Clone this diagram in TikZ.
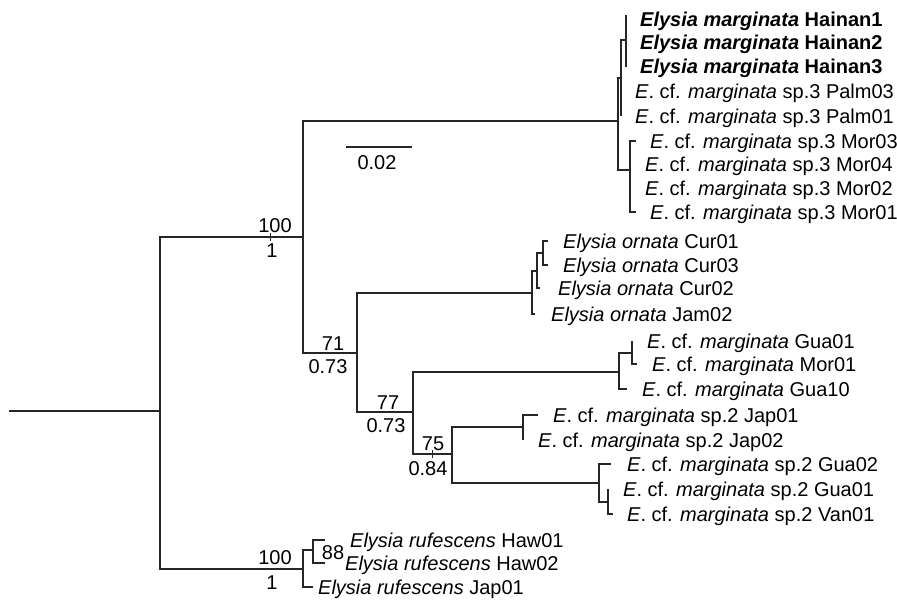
\documentclass[tikz,border=0pt]{standalone}
\usepackage{fontspec}
\setmainfont{Liberation Sans}
\begin{document}
\begin{tikzpicture}[x=1pt,y=-1pt,
  br/.style={line width=1.2pt, draw=black!85},
  leaf/.style={anchor=west, inner sep=0pt, text height=14pt, text depth=0pt, font=\fontsize{20}{22}\selectfont},
  bsl/.style={anchor=center, inner sep=0pt, text height=14pt, text depth=0pt, font=\fontsize{20}{22}\selectfont},
  tick/.style={line width=0.6pt, draw=black!85}]
\useasboundingbox (0,0) rectangle (897,602);
% ---- coordinates (pixel space, y down)
\coordinate (r0) at (9,411);
\coordinate (R) at (160,411);
\coordinate (A) at (303,237);
\coordinate (T) at (618,121);
\coordinate (HP) at (621,78);
\coordinate (HN) at (626,40);
\coordinate (h1) at (626,15);
\coordinate (h2) at (626,43);
\coordinate (h3) at (626,67);
\coordinate (p3) at (621,92);
\coordinate (p1) at (621,116);
\coordinate (MO) at (630,170);
\coordinate (m3) at (636,141);
\coordinate (m4) at (630,164);
\coordinate (m2) at (630,188);
\coordinate (m1) at (636,212);
\coordinate (B) at (357,353);
\coordinate (O) at (532,293);
\coordinate (CC) at (537,271);
\coordinate (CU) at (543,253);
\coordinate (c1) at (548,241);
\coordinate (c3) at (548,265);
\coordinate (c2) at (540,288);
\coordinate (j2) at (535,314);
\coordinate (C) at (413,412);
\coordinate (GM) at (619,372);
\coordinate (GM2) at (632,353);
\coordinate (g1) at (632,341);
\coordinate (mo1) at (637,364);
\coordinate (g10) at (627,389);
\coordinate (D) at (452,454);
\coordinate (JP) at (523,427);
\coordinate (jp1) at (538,415);
\coordinate (jp2) at (523,440);
\coordinate (GV) at (599,483);
\coordinate (gu2) at (611,464);
\coordinate (GV2) at (608,502);
\coordinate (gu1) at (608,489);
\coordinate (va1) at (613,514);
\coordinate (RU) at (303,569);
\coordinate (HW) at (313,550);
\coordinate (hw1) at (325,540);
\coordinate (hw2) at (325,563);
\coordinate (rj1) at (313,587);
% ---- branches
\draw[br] (r0) -- (R);
\draw[br] (R) |- (A);
\draw[br] (R) |- (RU);
\draw[br] (A) |- (T);
\draw[br] (A) |- (B);
\draw[br] (T) |- (HP);
\draw[br] (T) |- (MO);
\draw[br] (HP) |- (HN);
\draw[br] (HP) |- (p3);
\draw[br] (HP) |- (p1);
\draw[br] (HN) |- (h1);
\draw[br] (HN) |- (h2);
\draw[br] (HN) |- (h3);
\draw[br] (MO) |- (m3);
\draw[br] (MO) |- (m4);
\draw[br] (MO) |- (m2);
\draw[br] (MO) |- (m1);
\draw[br] (B) |- (O);
\draw[br] (B) |- (C);
\draw[br] (O) |- (CC);
\draw[br] (O) |- (j2);
\draw[br] (CC) |- (CU);
\draw[br] (CC) |- (c2);
\draw[br] (CU) |- (c1);
\draw[br] (CU) |- (c3);
\draw[br] (C) |- (GM);
\draw[br] (C) |- (D);
\draw[br] (GM) |- (GM2);
\draw[br] (GM) |- (g10);
\draw[br] (GM2) |- (g1);
\draw[br] (GM2) |- (mo1);
\draw[br] (D) |- (JP);
\draw[br] (D) |- (GV);
\draw[br] (JP) |- (jp1);
\draw[br] (JP) |- (jp2);
\draw[br] (GV) |- (gu2);
\draw[br] (GV) |- (GV2);
\draw[br] (GV2) |- (gu1);
\draw[br] (GV2) |- (va1);
\draw[br] (RU) |- (HW);
\draw[br] (RU) |- (rj1);
\draw[br] (HW) |- (hw1);
\draw[br] (HW) |- (hw2);
% ---- ticks under support values
\coordinate (k1a) at (270,233); \coordinate (k1b) at (270,241);
\draw[tick] (k1a) -- (k1b);
\coordinate (k2a) at (432,450); \coordinate (k2b) at (432,458);
\draw[tick] (k2a) -- (k2b);
% ---- leaf labels
\node[leaf] (Lh1) at (640,20) {\textbf{\textit{Elysia marginata} Hainan1}};
\node[leaf] (Lh2) at (640,43) {\textbf{\textit{Elysia marginata} Hainan2}};
\node[leaf] (Lh3) at (640,67) {\textbf{\textit{Elysia marginata} Hainan3}};
\node[leaf] (Lp3) at (635,92) {\textit{E}. cf. \textit{marginata} sp.3 Palm03};
\node[leaf] (Lp1) at (635,116) {\textit{E}. cf. \textit{marginata} sp.3 Palm01};
\node[leaf] (Lm3) at (650,141) {\textit{E}. cf. \textit{marginata} sp.3 Mor03};
\node[leaf] (Lm4) at (645,164) {\textit{E}. cf. \textit{marginata} sp.3 Mor04};
\node[leaf] (Lm2) at (645,188) {\textit{E}. cf. \textit{marginata} sp.3 Mor02};
\node[leaf] (Lm1) at (650,212) {\textit{E}. cf. \textit{marginata} sp.3 Mor01};
\node[leaf] (Lc1) at (563,241) {\textit{Elysia ornata} Cur01};
\node[leaf] (Lc3) at (563,265) {\textit{Elysia ornata} Cur03};
\node[leaf] (Lc2) at (558,288) {\textit{Elysia ornata} Cur02};
\node[leaf] (Lj2) at (551,314) {\textit{Elysia ornata} Jam02};
\node[leaf] (Lg1) at (647,341) {\textit{E}. cf. \textit{marginata} Gua01};
\node[leaf] (Lmo1) at (652,364) {\textit{E}. cf. \textit{marginata} Mor01};
\node[leaf] (Lg10) at (642,389) {\textit{E}. cf. \textit{marginata} Gua10};
\node[leaf] (Ljp1) at (553,415) {\textit{E}. cf. \textit{marginata} sp.2 Jap01};
\node[leaf] (Ljp2) at (538,440) {\textit{E}. cf. \textit{marginata} sp.2 Jap02};
\node[leaf] (Lgu2) at (627,464) {\textit{E}. cf. \textit{marginata} sp.2 Gua02};
\node[leaf] (Lgu1) at (623,489) {\textit{E}. cf. \textit{marginata} sp.2 Gua01};
\node[leaf] (Lva1) at (627,514) {\textit{E}. cf. \textit{marginata} sp.2 Van01};
\node[leaf] (Lhw1) at (350,540) {\textit{Elysia rufescens} Haw01};
\node[leaf] (Lhw2) at (345,563) {\textit{Elysia rufescens} Haw02};
\node[leaf] (Lrj1) at (318,587) {\textit{Elysia rufescens} Jap01};
% ---- support values
\node[bsl] (s1a) at (275,225) {100};
\node[bsl] (s1b) at (272,250) {1};
\node[bsl] (s2a) at (333,343) {71};
\node[bsl] (s2b) at (328,366) {0.73};
\node[bsl] (s3a) at (388,402) {77};
\node[bsl] (s3b) at (386,425) {0.73};
\node[bsl] (s4a) at (433,443) {75};
\node[bsl] (s4b) at (428,468) {0.84};
\node[bsl] (s5a) at (275,557) {100};
\node[bsl] (s5b) at (272,582) {1};
\node[bsl] (s6a) at (333,552) {88};
% ---- scale bar
\coordinate (sb1) at (346,147); \coordinate (sb2) at (412,147);
\draw[br] (sb1) -- (sb2);
\node[bsl] (sbl) at (377,162) {0.02};
\end{tikzpicture}
\end{document}
